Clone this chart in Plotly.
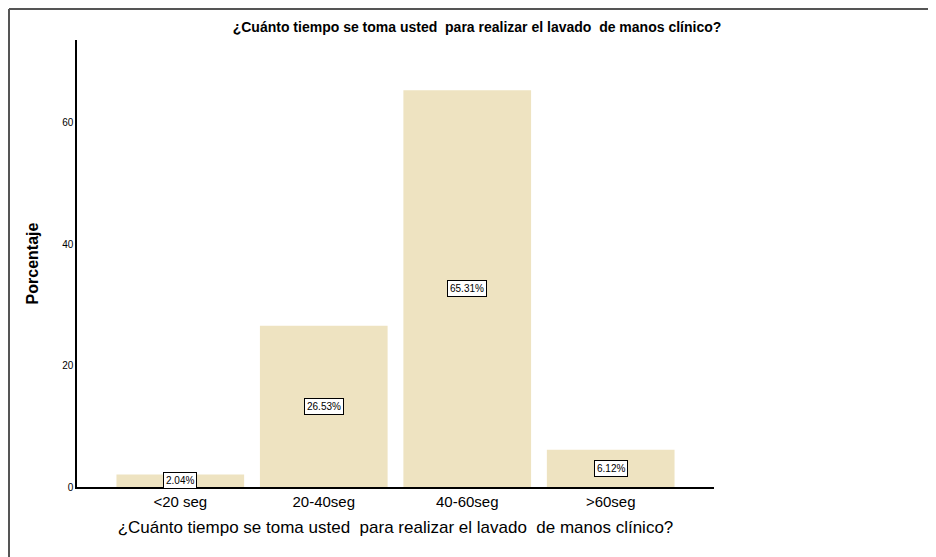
import plotly.graph_objects as go

categories = ["<20 seg", "20-40seg", "40-60seg", ">60seg"]
percentages = [2.04, 26.53, 65.31, 6.12]
labels = ["2.04%", "26.53%", "65.31%", "6.12%"]
y_ticks = [0, 20, 40, 60]

title_text = "¿Cuánto tiempo se toma usted  para realizar el lavado  de manos clínico?"

W, H = 928, 549          # page body has an 8px margin
L, R, T, B = 69, 222, 32, 70
PW, PH = W - L - R, H - T - B

fig = go.Figure()
fig.add_trace(go.Bar(
    x=categories, y=percentages, width=0.89,
    marker=dict(color="#EEE3C1", line=dict(width=0)),
    hoverinfo="skip", showlegend=False,
))

for c, v, t in zip(categories, percentages, labels):
    fig.add_annotation(
        x=c, y=v / 2, text=t, showarrow=False,
        font=dict(family="Liberation Sans, Arial", size=10, color="black"),
        bgcolor="white", bordercolor="black", borderwidth=1, borderpad=2,
    )

fig.update_layout(
    width=W, height=H,
    margin=dict(l=L, r=R, t=T, b=B),
    paper_bgcolor="white", plot_bgcolor="white",
    font=dict(family="Liberation Sans, Arial", color="black"),
    title=dict(text="<b>" + title_text + "</b>", x=(477 - 8) / W, xref="container", xanchor="center",
               y=1 - 19 / H, yanchor="middle",
               font=dict(family="Liberation Sans, Arial", size=14, color="black")),
    bargap=0.11,
)
fig.update_xaxes(
    range=[-0.72, 3.72], showline=True, linecolor="black", linewidth=1.5,
    ticks="", showgrid=False, zeroline=False, layer="below traces",
    tickfont=dict(size=15, family="Liberation Sans, Arial"),
    title=dict(text=title_text, font=dict(size=17, family="Liberation Sans, Arial"), standoff=12),
)
fig.update_yaxes(
    range=[0, 73.6], tickvals=y_ticks, showline=True, linecolor="black", linewidth=1.5,
    ticks="", showgrid=False, zeroline=False, layer="below traces",
    tickfont=dict(size=10, family="Liberation Sans, Arial"),
    title=dict(text="<b>Porcentaje</b>", font=dict(size=16, family="Liberation Sans, Arial"), standoff=20),
)

# outer frame lines (top and left)
fx = (1 - L) / PW
fy = (T + PH - 1) / PH
fig.add_shape(type="line", xref="paper", yref="paper",
              x0=fx, x1=(W - L) / PW, y0=fy, y1=fy,
              line=dict(color="#555555", width=2))
fig.add_shape(type="line", xref="paper", yref="paper",
              x0=fx, x1=fx, y0=fy, y1=-(B + 5) / PH,
              line=dict(color="#555555", width=2))

fig.write_html("out.html")
